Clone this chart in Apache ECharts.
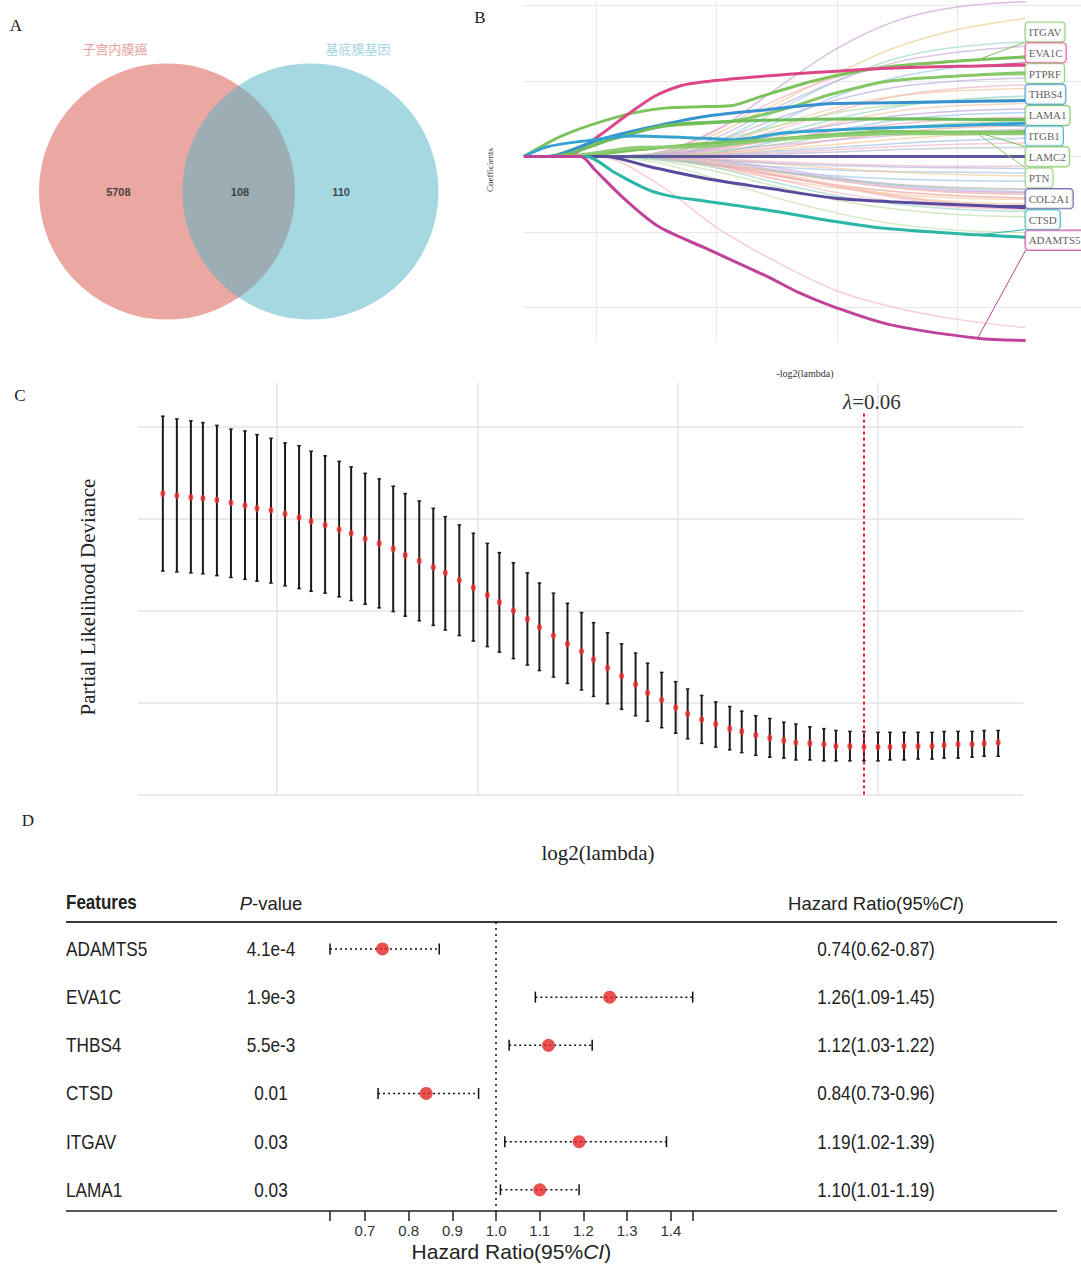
<!DOCTYPE html>
<html><head><meta charset="utf-8">
<script src="https://cdn.jsdelivr.net/npm/echarts@6/dist/echarts.min.js"></script>
<style>html,body{margin:0;padding:0;background:#fff}#c{width:1081px;height:1265px}</style>
</head><body><div id="c"></div>
<script>
// ================= DATA =================
// Panel A – Venn
const vennSets = ['子宫内膜癌', '基底膜基因'];
const vennCounts = [5708, 108, 110]; // left only, shared, right only

// Panel B – LASSO coefficient paths (x = -log2(lambda), y = coefficient)
const pathGenes = ['ITGAV','EVA1C','PTPRF','THBS4','LAMA1','ITGB1','LAMC2','PTN','COL2A1','CTSD','ADAMTS5'];
const path_ITGAV  = [[3.40,0],[3.74,0.029],[4.24,0.055],[4.57,0.064],[4.90,0.066],[5.11,0.067],[5.36,0.079],[5.78,0.099],[6.11,0.111],[6.44,0.119],[7.17,0.128],[7.57,0.132]];
const path_EVA1C  = [[3.40,0],[3.74,0],[4.02,0.027],[4.24,0.053],[4.49,0.080],[4.71,0.094],[4.90,0.099],[5.22,0.104],[5.69,0.110],[6.44,0.117],[7.17,0.120],[7.57,0.121]];
const path_PTPRF  = [[3.40,0],[3.60,0],[3.87,0.013],[4.28,0.031],[4.57,0.040],[4.90,0.044],[5.14,0.047],[5.55,0.062],[5.97,0.083],[6.44,0.100],[7.17,0.108],[7.57,0.111]];
const path_THBS4  = [[3.40,0],[3.60,0],[4.02,0.022],[4.43,0.038],[4.90,0.053],[5.42,0.062],[5.97,0.070],[6.44,0.071],[7.17,0.073],[7.57,0.074]];
const path_LAMA1  = [[3.40,0],[3.62,0],[4.16,0.024],[4.57,0.041],[4.90,0.045],[5.69,0.049],[6.44,0.050],[7.17,0.049],[7.57,0.049]];
const path_ITGB1  = [[3.40,0],[3.60,0.013],[3.88,0.020],[4.30,0.027],[4.90,0.024],[5.14,0.022],[5.55,0.031],[5.97,0.035],[6.44,0.038],[7.17,0.042],[7.57,0.044]];
const path_LAMC2  = [[3.40,0],[3.75,0],[4.36,0.009],[4.90,0.017],[5.42,0.022],[5.97,0.029],[6.44,0.033],[7.17,0.032],[7.57,0.033]];
const path_PTN    = [[3.40,0],[3.70,0],[4.36,0.012],[4.90,0.013],[5.42,0.021],[5.97,0.027],[6.44,0.030],[7.17,0.030],[7.57,0.030]];
const path_COL2A1 = [[3.40,0],[4.07,0],[4.43,-0.013],[4.90,-0.029],[5.42,-0.042],[5.97,-0.055],[6.44,-0.060],[7.17,-0.065],[7.57,-0.068]];
const path_CTSD   = [[3.40,0],[3.91,0],[4.16,-0.022],[4.43,-0.044],[4.63,-0.053],[4.90,-0.059],[5.42,-0.071],[5.97,-0.086],[6.44,-0.096],[7.17,-0.104],[7.57,-0.107]];
const path_ADAMTS5= [[3.40,0],[3.87,0],[3.99,-0.018],[4.24,-0.057],[4.52,-0.093],[4.90,-0.121],[5.42,-0.159],[5.69,-0.181],[5.97,-0.199],[6.44,-0.223],[7.17,-0.241],[7.57,-0.244]];
const zeroPath = [[3.40,0],[7.57,0]];
const faintX = [3.40, 4.00, 4.50, 5.00, 5.50, 6.00, 6.50, 7.00, 7.57];
const faintPaths = [
 [0,0,0.005,0.035,0.090,0.143,0.180,0.198,0.205],
 [0,0,0.003,0.030,0.070,0.110,0.145,0.168,0.183],
 [0,0,0,0.020,0.060,0.100,0.130,0.145,0.152],
 [0,0,0.002,0.025,0.065,0.100,0.125,0.138,0.146],
 [0,0,0.004,0.035,0.075,0.105,0.120,0.127,0.130],
 [0,0,0,0.015,0.045,0.080,0.105,0.118,0.124],
 [0,0,0.003,0.020,0.050,0.075,0.092,0.100,0.104],
 [0,0,0,0.010,0.035,0.060,0.080,0.090,0.095],
 [0,0,0.002,0.015,0.040,0.065,0.080,0.087,0.090],
 [0,0,0,0.012,0.030,0.050,0.066,0.075,0.080],
 [0,0,0.004,0.020,0.040,0.058,0.068,0.073,0.076],
 [0,0,0,0.008,0.025,0.045,0.060,0.067,0.070],
 [0,0,0.002,0.012,0.028,0.042,0.054,0.060,0.063],
 [0,0,0,0.005,0.020,0.035,0.048,0.055,0.058],
 [0,0,0.001,0.010,0.022,0.034,0.043,0.049,0.052],
 [0,0,0,0.006,0.016,0.028,0.038,0.044,0.047],
 [0,0,0,0.004,0.012,0.022,0.032,0.038,0.041],
 [0,0,0.002,0.008,0.015,0.022,0.028,0.033,0.036],
 [0,0,0,0.003,0.009,0.016,0.023,0.028,0.030],
 [0,0,0,0.002,0.007,0.012,0.017,0.021,0.024],
 [0,0,0,0.002,0.005,0.009,0.013,0.016,0.018],
 [0,0,0,0.001,0.003,0.006,0.009,0.011,0.012],
 [0,0,-0.004,-0.012,-0.020,-0.026,-0.030,-0.032,-0.033],
 [0,0,-0.002,-0.010,-0.020,-0.030,-0.037,-0.041,-0.043],
 [0,0,0,-0.008,-0.020,-0.032,-0.042,-0.048,-0.050],
 [0,0,-0.003,-0.015,-0.030,-0.042,-0.050,-0.055,-0.057],
 [0,0,0,-0.006,-0.018,-0.030,-0.040,-0.046,-0.048],
 [0,0,-0.005,-0.020,-0.040,-0.058,-0.070,-0.077,-0.080],
 [0,0,-0.002,-0.015,-0.035,-0.052,-0.063,-0.070,-0.073],
 [0,0,-0.001,-0.012,-0.030,-0.048,-0.060,-0.067,-0.070],
 [0,0,0,-0.010,-0.025,-0.040,-0.053,-0.062,-0.066],
 [0,0,-0.008,-0.030,-0.055,-0.075,-0.090,-0.098,-0.101],
 [0,0,-0.035,-0.094,-0.140,-0.178,-0.201,-0.216,-0.227],
 [0,0,-0.002,-0.008,-0.014,-0.018,-0.020,-0.021,-0.022],
 [0,0,0,-0.004,-0.010,-0.016,-0.021,-0.024,-0.026],
 [0,0,-0.001,-0.005,-0.009,-0.012,-0.014,-0.015,-0.016],
 [0,0,0,-0.003,-0.007,-0.010,-0.012,-0.013,-0.013],
 [0,0,-0.002,-0.012,-0.026,-0.038,-0.047,-0.052,-0.055],
 [0,0,0,-0.005,-0.015,-0.028,-0.038,-0.044,-0.047],
 [0,0,-0.003,-0.010,-0.020,-0.030,-0.038,-0.042,-0.044],
 [0,0,0,-0.007,-0.022,-0.038,-0.052,-0.060,-0.063],
 [0,0,-0.001,-0.009,-0.024,-0.040,-0.055,-0.065,-0.069]
];

// Panel C – cross-validation curve
const cvLog2Lambda = [-7.57,-7.50,-7.43,-7.37,-7.30,-7.23,-7.16,-7.10,-7.03,-6.96,-6.89,-6.83,-6.76,-6.69,-6.63,-6.56,-6.49,-6.42,-6.36,-6.29,-6.22,-6.16,-6.09,-6.02,-5.95,-5.89,-5.82,-5.75,-5.69,-5.62,-5.55,-5.48,-5.42,-5.35,-5.28,-5.21,-5.15,-5.08,-5.01,-4.95,-4.88,-4.81,-4.74,-4.68,-4.61,-4.54,-4.47,-4.41,-4.34,-4.27,-4.21,-4.14,-4.07,-4.00,-3.94,-3.87,-3.80,-3.73,-3.67,-3.60,-3.53,-3.47,-3.40];
const cvMean  = [15.27,15.25,15.23,15.22,15.20,15.17,15.14,15.11,15.09,15.05,15.01,14.97,14.93,14.88,14.84,14.78,14.73,14.67,14.60,14.54,14.47,14.41,14.33,14.25,14.17,14.09,14.00,13.91,13.82,13.73,13.64,13.56,13.47,13.38,13.29,13.20,13.11,13.03,12.95,12.88,12.82,12.77,12.72,12.69,12.65,12.62,12.59,12.57,12.56,12.55,12.53,12.53,12.52,12.52,12.52,12.53,12.53,12.53,12.54,12.55,12.55,12.56,12.57];
const cvUpper = [16.11,16.08,16.06,16.04,16.01,15.97,15.95,15.91,15.87,15.82,15.79,15.73,15.68,15.62,15.56,15.49,15.43,15.35,15.27,15.19,15.11,15.02,14.93,14.84,14.73,14.63,14.52,14.41,14.30,14.19,14.08,13.98,13.87,13.76,13.64,13.54,13.43,13.33,13.23,13.15,13.08,13.01,12.96,12.91,12.86,12.83,12.79,12.77,12.74,12.72,12.70,12.69,12.69,12.68,12.68,12.68,12.68,12.68,12.69,12.69,12.69,12.70,12.70];
const cvLower = [14.43,14.42,14.41,14.40,14.38,14.36,14.34,14.32,14.30,14.27,14.24,14.21,14.19,14.15,14.11,14.07,14.03,13.99,13.94,13.89,13.84,13.79,13.73,13.67,13.61,13.55,13.48,13.41,13.35,13.28,13.21,13.14,13.07,12.99,12.93,12.86,12.80,12.73,12.67,12.61,12.56,12.52,12.49,12.46,12.43,12.41,12.40,12.38,12.38,12.37,12.37,12.37,12.37,12.37,12.38,12.38,12.39,12.39,12.40,12.40,12.41,12.42,12.42];
const lambdaMin = 0.06;
const lambdaMinIndex = 52;
const cvGridX = [-7, -6, -5, -4];
const cvGridY = [12, 13, 14, 15, 16];

// Panel D – Cox forest plot
const hrFeatures = ['ADAMTS5','EVA1C','THBS4','CTSD','ITGAV','LAMA1'];
const hrPValues  = ['4.1e-4','1.9e-3','5.5e-3','0.01','0.03','0.03'];
const hrValues   = [0.74, 1.26, 1.12, 0.84, 1.19, 1.10];
const hrLower    = [0.62, 1.09, 1.03, 0.73, 1.02, 1.01];
const hrUpper    = [0.87, 1.45, 1.22, 0.96, 1.39, 1.19];
const hrTickLabels = [0.7, 0.8, 0.9, 1.0, 1.1, 1.2, 1.3, 1.4];

// ================= LAYOUT / STYLE =================
const vennLayout = { circles: [[0, 0, 1], [1.12, 0, 1]], countX: [-0.38, 0.57, 1.36],
  fills: ['rgba(215,81,69,0.5)', 'rgba(77,177,197,0.5)'], nameColors: ['#E9A39C', '#A3D5DF'] };
const pathByGene = {ITGAV:path_ITGAV, EVA1C:path_EVA1C, PTPRF:path_PTPRF, THBS4:path_THBS4, LAMA1:path_LAMA1,
  ITGB1:path_ITGB1, LAMC2:path_LAMC2, PTN:path_PTN, COL2A1:path_COL2A1, CTSD:path_CTSD, ADAMTS5:path_ADAMTS5};
const geneColor = {ITGAV:'#7DC35C', EVA1C:'#DE4787', PTPRF:'#86C766', THBS4:'#3592CF', LAMA1:'#6DBE5A',
  ITGB1:'#35A3D2', LAMC2:'#7DC35C', PTN:'#8FCB72', COL2A1:'#5A4A9E', CTSD:'#2CB6A6', ADAMTS5:'#C1429B'};
const labelYB = [0.1648, 0.1373, 0.1098, 0.0824, 0.0543, 0.0270, -0.0004, -0.0285, -0.0560, -0.0838, -0.1112];
const faintColors = ['#D7B5DF','#F0D9A8','#9FD9CA','#C9AEDF','#F3AFC4','#9FCBEA','#C2AEDD','#F5B3C2','#F2CB9E','#95D3C4',
  '#B5DC9E','#F5C7A6','#BFA2D8','#9AC4E6','#F2AABD','#A9D696','#F0A79B','#CDB3E0','#F3CA99','#A0C0E4','#F5B3C8','#B5BBD2',
  '#9FC8E8','#F3B0BF','#F2A89C','#F5C9A5','#C6AADC','#BFE0AC','#9BD6C8','#F6B7C6','#EFA79D','#C8E3B7','#F8C6D2',
  '#A3C6E6','#F3CC9E','#AEB8D6','#F4B8C9','#EE9E94','#CBB1DE','#9DD6C8','#F5CBA9','#F6BCCB'];
const serif = "'Liberation Serif','DejaVu Serif',serif";
const sans = "'Liberation Sans','Noto Sans',sans-serif";
const gridLine = {color:'#E9E9E9', width:1, type:'solid'};
const condensed = 0.86;

function valueAt(path, x) {
  for (let i = 1; i < path.length; i++) {
    if (x <= path[i][0]) {
      const a = path[i-1], b = path[i];
      return a[1] + (b[1]-a[1]) * (x-a[0]) / (b[0]-a[0]);
    }
  }
  return path[path.length-1][1];
}

// ================= SERIES =================
const series = [];
// --- A
series.push({
  type:'custom', xAxisIndex:0, yAxisIndex:0, silent:true,
  data: vennLayout.circles,
  renderItem: (p, api) => {
    const c = api.coord([api.value(0), api.value(1)]);
    const r = api.size([api.value(2), 0])[0];
    return {type:'circle', shape:{cx:c[0], cy:c[1], r:r}, style:{fill:vennLayout.fills[p.dataIndex]}};
  }
});
series.push({
  type:'scatter', xAxisIndex:0, yAxisIndex:0, symbolSize:0, silent:true, z:5,
  data: vennCounts.map((v,i)=>({value:[vennLayout.countX[i], 0], name:String(v)})),
  label:{show:true, position:'inside', formatter:'{b}', fontFamily:sans, fontWeight:'bold', fontSize:11, color:'#222'}
});
// --- B gridlines
series.push({
  type:'line', xAxisIndex:1, yAxisIndex:1, data:[[3.40,0]], showSymbol:false, lineStyle:{width:0}, silent:true, z:0,
  markLine:{z:0, silent:true, symbol:['none','none'], label:{show:false}, lineStyle:gridLine, animation:false,
    data:[{yAxis:-0.2},{yAxis:-0.1},{yAxis:0},{yAxis:0.1},{yAxis:0.2},{xAxis:4},{xAxis:5},{xAxis:6},{xAxis:7}]}
});
faintPaths.forEach((ys, k) => {
  series.push({type:'line', xAxisIndex:1, yAxisIndex:1, data: faintX.map((x,i)=>[x, ys[i]]), smooth:0.35,
    showSymbol:false, silent:true, z:1,
    lineStyle:{color:faintColors[k % faintColors.length], width:1.5, opacity:k===32||k===0||k===1?0.9:0.7}});
});
series.push({type:'line', xAxisIndex:1, yAxisIndex:1, data:zeroPath, showSymbol:false, silent:true, z:2,
  lineStyle:{color:'#5B5799', width:3}});
pathGenes.forEach(g => {
  series.push({type:'line', xAxisIndex:1, yAxisIndex:1, data:pathByGene[g], smooth:0.3, showSymbol:false, silent:true, z:3,
    lineStyle:{color:geneColor[g], width:3}});
});
pathGenes.forEach((g, i) => {
  const y0 = valueAt(pathByGene[g], 7.17);
  const h = 0.0132;
  const yt = Math.min(Math.max(y0, labelYB[i]-h), labelYB[i]+h);
  series.push({type:'line', xAxisIndex:1, yAxisIndex:1, data:[[7.17, y0],[7.57, yt]], showSymbol:false, silent:true, z:4,
    lineStyle:{color:geneColor[g], width:1}});
});
series.push({
  type:'scatter', xAxisIndex:1, yAxisIndex:1, symbolSize:0, silent:true, z:6, clip:false,
  data: pathGenes.map((g,i)=>({value:[7.57, labelYB[i]], name:g,
    label:{borderColor:geneColor[g]}})),
  label:{show:true, position:'right', distance:0, formatter:'{b}', fontFamily:serif, fontSize:11, color:'#333',
    backgroundColor:'#fff', borderWidth:1.2, borderRadius:3, padding:[3,3,2,3], lineHeight:14}
});
// --- C
series.push({
  type:'line', xAxisIndex:2, yAxisIndex:2, data:[[cvLog2Lambda[0], cvMean[0]]], showSymbol:false, lineStyle:{width:0}, silent:true, z:0,
  markLine:{z:0, silent:true, symbol:['none','none'], label:{show:false}, lineStyle:{color:'#E4E4E4', width:1.5, type:'solid'}, animation:false,
    data: cvGridY.map(v=>({yAxis:v})).concat(cvGridX.map(v=>({xAxis:v})))}
});
series.push({
  type:'custom', xAxisIndex:2, yAxisIndex:2, silent:true, z:2,
  data: cvLog2Lambda.map((x,i)=>[x, cvLower[i], cvUpper[i]]),
  encode:{x:0, y:[1,2]},
  renderItem: (p, api) => {
    const x = api.value(0);
    const t = api.coord([x, api.value(2)]), b = api.coord([x, api.value(1)]);
    const s = {stroke:'#1b1b1b', lineWidth:2};
    return {type:'group', children:[
      {type:'line', shape:{x1:t[0], y1:t[1], x2:b[0], y2:b[1]}, style:s},
      {type:'line', shape:{x1:t[0]-1.8, y1:t[1], x2:t[0]+1.8, y2:t[1]}, style:{stroke:'#1b1b1b', lineWidth:1.5}},
      {type:'line', shape:{x1:b[0]-1.8, y1:b[1], x2:b[0]+1.8, y2:b[1]}, style:{stroke:'#1b1b1b', lineWidth:1.5}}
    ]};
  }
});
series.push({
  type:'scatter', xAxisIndex:2, yAxisIndex:2, silent:true, z:3,
  data: cvLog2Lambda.map((x,i)=>[x, cvMean[i]]), symbol:'circle', symbolSize:[5,7],
  itemStyle:{color:'#EF2A2A'},
  markLine:{silent:true, symbol:['none','none'], animation:false,
    lineStyle:{color:'#E8232B', width:2, type:[3,3]},
    label:{show:true, position:'start', distance:1, padding:[0,0,0,16], formatter:'{i|λ}{n|=' + lambdaMin + '}',
      rich:{i:{fontFamily:serif, fontStyle:'italic', fontSize:21, color:'#333'}, n:{fontFamily:serif, fontSize:21, color:'#333'}}},
    data:[[{coord:[cvLog2Lambda[lambdaMinIndex], 16.14]}, {coord:[cvLog2Lambda[lambdaMinIndex], 12]}]]}
});
// --- D
series.push({
  type:'custom', xAxisIndex:3, yAxisIndex:3, silent:true, z:2,
  data: hrFeatures.map((f,i)=>[i, hrLower[i], hrUpper[i]]),
  encode:{x:[1,2], y:0},
  renderItem: (p, api) => {
    const y = api.value(0);
    const a = api.coord([api.value(1), y]), b = api.coord([api.value(2), y]);
    const st = {stroke:'#111', lineWidth:1.5};
    return {type:'group', children:[
      {type:'line', shape:{x1:a[0], y1:a[1], x2:b[0], y2:b[1]}, style:{stroke:'#111', lineWidth:1.5, lineDash:[2,3]}},
      {type:'line', shape:{x1:a[0], y1:a[1]-5.5, x2:a[0], y2:a[1]+5.5}, style:st},
      {type:'line', shape:{x1:b[0], y1:b[1]-5.5, x2:b[0], y2:b[1]+5.5}, style:st}
    ]};
  },
  markLine:{silent:true, symbol:['none','none'], animation:false, label:{show:false},
    lineStyle:{color:'#111', width:1.5, type:[2,4]},
    data:[[{coord:[1, -0.56]}, {coord:[1, 5.44]}]]}
});
series.push({
  type:'scatter', xAxisIndex:3, yAxisIndex:3, silent:true, z:3,
  data: hrValues.map((v,i)=>[v, i]), symbolSize:13, itemStyle:{color:'#E32525'}
});
const tableCols = {feature:66, p:271, hr:876};
function textColumn(colX, texts, align) {
  return {
    type:'custom', xAxisIndex:4, yAxisIndex:4, silent:true, clip:false,
    data: texts.map((t,i)=>[colX, i]),
    renderItem: (p, api) => {
      const c = api.coord([api.value(0), api.value(1)]);
      return {type:'text', x:c[0], y:c[1], scaleX:condensed,
        style:{text:texts[p.dataIndex], x:0, y:0, font:'20px ' + sans, fill:'#222',
          align:align, verticalAlign:'middle', textAlign:align, textVerticalAlign:'middle'}};
    }
  };
}
series.push(textColumn(tableCols.feature, hrFeatures, 'left'));
series.push(textColumn(tableCols.p, hrPValues, 'center'));
series.push(textColumn(tableCols.hr, hrValues.map((v,i)=> v.toFixed(2) + '(' + hrLower[i].toFixed(2) + '-' + hrUpper[i].toFixed(2) + ')'), 'center'));

// ================= GRAPHIC TEXT =================
function txt(x, y, text, font, opts) {
  return Object.assign({type:'text', x:x, y:y, silent:true,
    style:Object.assign({text:text, font:font, fill:'#222', align:'center', verticalAlign:'middle',
      textAlign:'center', textVerticalAlign:'middle'}, (opts && opts.style) || {})}, (opts && opts.el) || {});
}
const graphics = [
  txt(16, 25, 'A', '17px ' + serif),
  txt(480, 17, 'B', '17px ' + serif),
  txt(20, 395, 'C', '17px ' + serif),
  txt(28, 820, 'D', '17px ' + serif),
  txt(115, 48, vennSets[0], "13px 'Noto Sans CJK SC',sans-serif", {style:{fill:vennLayout.nameColors[0]}}),
  txt(358, 48, vennSets[1], "13px 'Noto Sans CJK SC',sans-serif", {style:{fill:vennLayout.nameColors[1]}}),
  txt(805, 373, '-log2(lambda)', '10px ' + serif, {style:{fill:'#333'}}),
  txt(490, 170, 'Coefficients', '9px ' + serif, {style:{fill:'#333'}, el:{rotation:Math.PI/2}}),
  txt(88, 597, 'Partial Likelihood Deviance', '21px ' + serif, {style:{fill:'#222'}, el:{rotation:Math.PI/2}}),
  txt(598, 853, 'log2(lambda)', '21px ' + serif, {style:{fill:'#222'}}),
  txt(66, 902, 'Features', 'bold 20px ' + sans, {style:{align:'left', textAlign:'left'}, el:{scaleX:0.85}}),
  {type:'text', x:271, y:903, silent:true, style:{text:'{i|P}{n|-value}', align:'center', verticalAlign:'middle', textAlign:'center', textVerticalAlign:'middle',
    rich:{i:{fontStyle:'italic', fontSize:18.5, fontFamily:sans, fill:'#222', color:'#222'}, n:{fontSize:18.5, fontFamily:sans, fill:'#222', color:'#222'}}}},
  {type:'text', x:876, y:903, silent:true, style:{text:'{n|Hazard Ratio(95%}{i|CI}{n|)}', align:'center', verticalAlign:'middle', textAlign:'center', textVerticalAlign:'middle',
    rich:{i:{fontStyle:'italic', fontSize:18.5, fontFamily:sans, fill:'#222', color:'#222'}, n:{fontSize:18.5, fontFamily:sans, fill:'#222', color:'#222'}}}},
  {type:'line', silent:true, shape:{x1:66, y1:922, x2:1057, y2:922}, style:{stroke:'#3a3a3a', lineWidth:2}},
  {type:'line', silent:true, shape:{x1:66, y1:1211, x2:1057, y2:1211}, style:{stroke:'#222', lineWidth:1.5}}
];

// ================= OPTION =================
const option = {
  backgroundColor:'#fff',
  animation:false,
  grid:[
    {left:39, top:63, width:399, height:257},
    {left:523, top:1, width:558, height:341},
    {left:138, top:383, width:885, height:412},
    {left:330, top:922, width:362.7, height:289},
    {left:0, top:922, width:1081, height:289}
  ],
  xAxis:[
    {gridIndex:0, type:'value', min:-1, max:2.117, show:false},
    {gridIndex:1, type:'value', min:3.392, max:8.03, show:false},
    {gridIndex:2, type:'value', min:-7.694, max:-3.276, show:false},
    {gridIndex:3, type:'value', min:0.62, max:1.45, position:'bottom',
      axisLine:{show:false, onZero:false}, splitLine:{show:false},
      axisTick:{show:true, length:10, lineStyle:{color:'#222', width:1.5}, customValues:[hrLower[0]].concat(hrTickLabels, [hrUpper[1]])},
      axisLabel:{show:true, margin:12, fontFamily:sans, fontSize:15, color:'#333', customValues:hrTickLabels, formatter:v=>Number(v).toFixed(1)},
      name:'{n|Hazard Ratio(95%}{i|CI}{n|)}', nameLocation:'middle', nameGap:30,
      nameTextStyle:{rich:{n:{fontFamily:sans, fontSize:21, color:'#222'}, i:{fontFamily:sans, fontSize:21, fontStyle:'italic', color:'#222'}}}},
    {gridIndex:4, type:'value', min:0, max:1081, show:false}
  ],
  yAxis:[
    {gridIndex:0, type:'value', min:-1, max:1, show:false},
    {gridIndex:1, type:'value', min:-0.246, max:0.206, show:false},
    {gridIndex:2, type:'value', min:12, max:16.47, show:false},
    {gridIndex:3, type:'value', min:-0.56, max:5.44, inverse:true, show:false},
    {gridIndex:4, type:'value', min:-0.56, max:5.44, inverse:true, show:false}
  ],
  series: series,
  graphic: graphics
};
const chart = echarts.init(document.getElementById('c'), null, {renderer:'svg', width:1081, height:1265});
chart.setOption(option);
</script>
</body></html>
